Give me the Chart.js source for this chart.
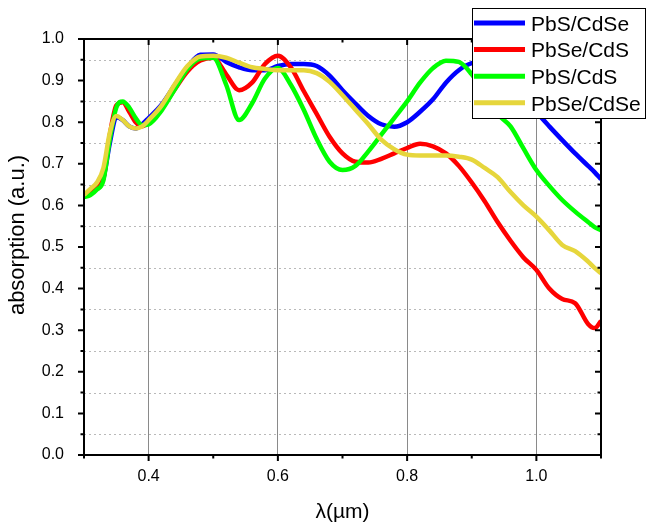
<!DOCTYPE html>
<html>
<head>
<meta charset="utf-8">
<script src="https://cdn.jsdelivr.net/npm/chart.js@4.4.0/dist/chart.umd.min.js"></script>
<style>
  html, body { margin: 0; padding: 0; background: #fff; }
  canvas { display: block; }
</style>
</head>
<body>
<canvas id="absorptionChart" width="652" height="530"></canvas>
<script>
// wavelength in um
const wavelengths = [0.30, 0.31, 0.32, 0.33, 0.34, 0.35, 0.36, 0.37, 0.38, 0.39, 0.40,
  0.42, 0.44, 0.46, 0.48, 0.50, 0.52, 0.54, 0.56, 0.58, 0.60, 0.62, 0.64, 0.66, 0.68,
  0.70, 0.72, 0.74, 0.76, 0.78, 0.80, 0.82, 0.84, 0.86, 0.88, 0.90, 0.92, 0.94, 0.96,
  0.98, 1.00, 1.02, 1.04, 1.06, 1.08, 1.09, 1.10];

const pbsCdse = [0.625, 0.632, 0.645, 0.665, 0.750, 0.812, 0.805, 0.790, 0.785, 0.795, 0.810,
  0.842, 0.888, 0.932, 0.962, 0.963, 0.945, 0.932, 0.925, 0.925, 0.935, 0.940, 0.940, 0.935, 0.912,
  0.877, 0.845, 0.815, 0.795, 0.789, 0.800, 0.825, 0.855, 0.895, 0.925, 0.942, 0.945, 0.932, 0.903,
  0.865, 0.825, 0.790, 0.757, 0.725, 0.695, 0.680, 0.663];

const pbseCds = [0.625, 0.632, 0.645, 0.665, 0.770, 0.840, 0.848, 0.825, 0.800, 0.790, 0.800,
  0.833, 0.878, 0.922, 0.948, 0.955, 0.915, 0.877, 0.895, 0.940, 0.960, 0.932, 0.875, 0.820, 0.765,
  0.725, 0.705, 0.703, 0.712, 0.725, 0.738, 0.748, 0.742, 0.725, 0.695, 0.655, 0.610, 0.560, 0.515,
  0.475, 0.445, 0.400, 0.375, 0.365, 0.315, 0.305, 0.322];

const pbsCds = [0.620, 0.625, 0.638, 0.660, 0.760, 0.835, 0.850, 0.835, 0.810, 0.793, 0.795,
  0.828, 0.878, 0.928, 0.953, 0.955, 0.890, 0.805, 0.845, 0.905, 0.930, 0.890, 0.830, 0.760, 0.705,
  0.685, 0.695, 0.730, 0.770, 0.810, 0.850, 0.895, 0.930, 0.948, 0.945, 0.915, 0.870, 0.820, 0.790,
  0.737, 0.685, 0.647, 0.613, 0.585, 0.560, 0.548, 0.540];

const pbseCdse = [0.625, 0.640, 0.655, 0.690, 0.775, 0.815, 0.805, 0.790, 0.785, 0.790, 0.805,
  0.840, 0.890, 0.935, 0.958, 0.960, 0.955, 0.943, 0.932, 0.928, 0.925, 0.925, 0.925, 0.918, 0.897,
  0.865, 0.830, 0.795, 0.758, 0.735, 0.722, 0.720, 0.720, 0.720, 0.717, 0.710, 0.690, 0.668, 0.632,
  0.600, 0.573, 0.540, 0.505, 0.490, 0.465, 0.450, 0.437];

const seriesLabels = ['PbS/CdSe', 'PbSe/CdS', 'PbS/CdS', 'PbSe/CdSe'];
const seriesValues = [pbsCdse, pbseCds, pbsCds, pbseCdse];

const xTicks = [0.3, 0.4, 0.5, 0.6, 0.7, 0.8, 0.9, 1.0, 1.1];
const xLabelled = [0.4, 0.6, 0.8, 1.0];
const yTicks = [0.0, 0.1, 0.2, 0.3, 0.4, 0.5, 0.6, 0.7, 0.8, 0.9, 1.0];

const colors = ['#0000ff', '#ff0000', '#00ff00', '#e6d63c'];
const fontFamily = '"Liberation Sans", Arial, sans-serif';
const yTitle = 'absorption (a.u.)';

function isLabelled(v) {
    return xLabelled.some(t => Math.abs(t - v) < 1e-6);
}

// frame, ticks, dotted grid, y title and the boxed legend are drawn by hand
const framePlugin = {
    id: 'frame',
    beforeDatasetsDraw(chart) {
        const {ctx, chartArea: a, scales: {y}} = chart;
        ctx.save();
        ctx.strokeStyle = '#b9b9b9';
        ctx.lineWidth = 1;
        ctx.setLineDash([2, 3]);
        for (let i = 0; i < yTicks.length - 1; i++) {
            const py = Math.round(y.getPixelForValue((yTicks[i] + yTicks[i + 1]) / 2)) + 0.5;
            ctx.beginPath();
            ctx.moveTo(a.left, py);
            ctx.lineTo(a.right, py);
            ctx.stroke();
        }
        ctx.restore();
    },
    afterDatasetsDraw(chart) {
        const {ctx, chartArea: a, scales: {x, y}} = chart;
        ctx.save();
        ctx.strokeStyle = '#000';
        ctx.lineWidth = 2;
        ctx.strokeRect(a.left, a.top, a.right - a.left, a.bottom - a.top);

        ctx.beginPath();
        for (let i = 0; i < yTicks.length; i++) {
            let py = y.getPixelForValue(yTicks[i]);
            ctx.moveTo(a.left, py); ctx.lineTo(a.left - 6, py);
            ctx.moveTo(a.right, py); ctx.lineTo(a.right - 6, py);
            if (i < yTicks.length - 1) {
                py = y.getPixelForValue((yTicks[i] + yTicks[i + 1]) / 2);
                ctx.moveTo(a.left, py); ctx.lineTo(a.left - 3.5, py);
                ctx.moveTo(a.right, py); ctx.lineTo(a.right - 3.5, py);
            }
        }
        xTicks.forEach(v => {
            const px = x.getPixelForValue(v);
            const len = isLabelled(v) ? 6 : 3.5;
            ctx.moveTo(px, a.bottom); ctx.lineTo(px, a.bottom + len);
            ctx.moveTo(px, a.top); ctx.lineTo(px, a.top + len);
        });
        ctx.stroke();

        // y axis title, sitting a little above the middle as in the original
        ctx.translate(18, 235);
        ctx.rotate(-Math.PI / 2);
        ctx.font = '22px ' + fontFamily;
        ctx.fillStyle = '#000';
        ctx.textAlign = 'center';
        ctx.textBaseline = 'middle';
        ctx.fillText(yTitle, 0, 0);
        ctx.restore();
    },
    afterDraw(chart) {
        const ctx = chart.ctx;
        const box = {left: 472, top: 8, width: 173, height: 110};
        ctx.save();
        ctx.fillStyle = '#fff';
        ctx.fillRect(box.left, box.top, box.width, box.height);
        ctx.strokeStyle = '#000';
        ctx.lineWidth = 1;
        ctx.strokeRect(box.left + 0.5, box.top + 0.5, box.width, box.height);
        ctx.font = '21px ' + fontFamily;
        ctx.textBaseline = 'middle';
        ctx.textAlign = 'left';
        chart.data.datasets.forEach((ds, i) => {
            const rowY = 23 + i * 26.6;
            ctx.strokeStyle = ds.borderColor;
            ctx.lineWidth = 5;
            ctx.beginPath();
            ctx.moveTo(474, rowY);
            ctx.lineTo(525, rowY);
            ctx.stroke();
            ctx.fillStyle = '#000';
            ctx.fillText(ds.label, 531, rowY + 2);
        });
        ctx.restore();
    }
};

const ctx = document.getElementById('absorptionChart').getContext('2d');

const absorptionChart = new Chart(ctx, {
    type: 'line',
    data: {
        datasets: seriesLabels.map((label, i) => ({
            label: label,
            data: wavelengths.map((w, j) => ({x: w, y: seriesValues[i][j]})),
            borderColor: colors[i],
            borderWidth: 4.5,
            pointRadius: 0,
            fill: false,
            cubicInterpolationMode: 'monotone',
            order: seriesLabels.length - i
        }))
    },
    options: {
        responsive: false,
        animation: false,
        layout: {padding: {top: 39, right: 51, left: 0, bottom: 0}},
        plugins: {
            legend: {display: false},
            tooltip: {enabled: false}
        },
        scales: {
            x: {
                type: 'linear',
                min: 0.3,
                max: 1.1,
                afterBuildTicks: scale => { scale.ticks = xTicks.map(v => ({value: v})); },
                afterFit: scale => {
                    scale.height = 75;
                    scale.paddingLeft = 0;
                    scale.paddingRight = 0;
                },
                ticks: {
                    autoSkip: false,
                    maxRotation: 0,
                    padding: 12,
                    color: '#000',
                    font: {family: fontFamily, size: 16},
                    callback: v => isLabelled(v) ? v.toFixed(1) : ''
                },
                grid: {
                    drawTicks: false,
                    lineWidth: 1,
                    color: c => (c.tick && isLabelled(c.tick.value)) ? '#8a8a8a' : 'rgba(0,0,0,0)'
                },
                border: {display: false},
                title: {
                    display: true,
                    text: 'λ(µm)',
                    color: '#000',
                    font: {family: fontFamily, size: 21},
                    padding: {top: 0, bottom: 5}
                }
            },
            y: {
                min: 0,
                max: 1,
                afterBuildTicks: scale => { scale.ticks = yTicks.map(v => ({value: v})); },
                afterFit: scale => {
                    scale.width = 84;
                    scale.paddingTop = 0;
                    scale.paddingBottom = 0;
                },
                ticks: {
                    padding: 12,
                    color: '#000',
                    font: {family: fontFamily, size: 16},
                    callback: v => v.toFixed(1)
                },
                grid: {display: false},
                border: {display: false}
            }
        }
    },
    plugins: [framePlugin]
});
</script>
</body>
</html>
